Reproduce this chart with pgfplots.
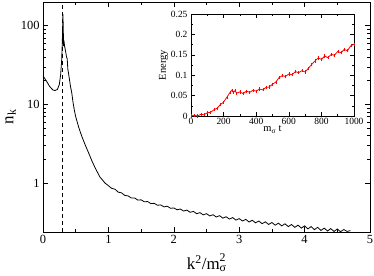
\documentclass[border=0pt]{standalone}
\usepackage{fontspec}
\setmainfont{Liberation Serif}
\usepackage{pgfplots}
\pgfplotsset{compat=1.18}
\begin{document}
\begin{tikzpicture}
\begin{axis}[at={(0bp,0bp)}, anchor=south west, scale only axis,
  width=327bp, height=230bp,
  xmin=0, xmax=5, ymode=log, ymin=0.24, ymax=200,
  xtick={0,1,2,3,4,5}, minor xtick={0.5,1.5,2.5,3.5,4.5},
  ytick={1,10,100}, yticklabels={1,10,100},
  tick align=inside, major tick length=5bp, minor tick length=3bp,
  axis line style={line width=0.8pt}, every tick/.style={black, line width=0.6pt},
  ticklabel style={font=\fontsize{12.5}{12.5}\selectfont},
  /pgf/number format/assume math mode=true,
  xlabel={k\textsuperscript{2}/m\rlap{\textsubscript{σ}}\raisebox{1.5bp}{\textsuperscript{2}}},
  ylabel={n\textsubscript{k}},
  label style={font=\fontsize{17}{17}\selectfont},
  xlabel style={yshift=-3bp},
  ylabel style={yshift=-2bp},
]
\addplot[black, line width=0.8pt] coordinates {
(0,23) (0.05,20) (0.1,17) (0.15,15.3) (0.18,15) (0.22,15.5) (0.25,18) (0.27,24)
(0.285,36) (0.295,60) (0.305,140) (0.31,90) (0.315,55) (0.32,65) (0.33,55) (0.34,50)
(0.35,45) (0.36,40) (0.37,38) (0.38,28) (0.39,25) (0.40,22) (0.42,17) (0.44,14)
(0.46,10.5) (0.48,8.4) (0.5,7) (0.55,5) (0.6,3.8) (0.65,3) (0.7,2.4) (0.75,1.9)
(0.8,1.55) (0.87,1.2) (0.95,1.0)
(1.00,0.93) (1.05,0.86) (1.10,0.84) (1.15,0.77) (1.20,0.755) (1.25,0.70) (1.30,0.69)
(1.35,0.65) (1.40,0.65) (1.45,0.61) (1.50,0.615) (1.55,0.58) (1.60,0.585) (1.65,0.55)
(1.70,0.555) (1.75,0.525) (1.80,0.53) (1.85,0.50) (1.90,0.51) (1.95,0.48) (2.00,0.485)
(2.05,0.46) (2.10,0.47) (2.15,0.443) (2.20,0.455) (2.25,0.427) (2.30,0.438) (2.35,0.41)
(2.40,0.423) (2.45,0.396) (2.50,0.41) (2.55,0.384) (2.60,0.398) (2.65,0.372) (2.70,0.387)
(2.75,0.36) (2.80,0.375) (2.85,0.35) (2.90,0.366) (2.95,0.34) (3.00,0.355) (3.05,0.331)
(3.10,0.347) (3.15,0.322) (3.20,0.338) (3.25,0.314) (3.30,0.331) (3.35,0.306) (3.40,0.323)
(3.45,0.299) (3.50,0.317) (3.55,0.293) (3.60,0.311) (3.65,0.287) (3.70,0.305) (3.75,0.281)
(3.80,0.299) (3.85,0.275) (3.90,0.293) (3.95,0.269) (4.00,0.287) (4.05,0.263) (4.10,0.281)
(4.15,0.257) (4.20,0.275) (4.25,0.251) (4.30,0.269) (4.35,0.247) (4.40,0.265) (4.45,0.244)
(4.50,0.262) (4.55,0.242) (4.60,0.258) (4.65,0.244) (4.70,0.25)
};
\addplot[black, line width=0.8pt, dash pattern=on 4pt off 3pt] coordinates {(0.3,0.24) (0.3,200)};
\end{axis}
\begin{axis}[at={(148bp,116bp)}, anchor=south west, scale only axis,
  width=163bp, height=102bp,
  xmin=0, xmax=1000, ymin=0, ymax=0.25,
  xtick={0,200,400,600,800,1000}, minor xtick={100,300,500,700,900},
  xticklabels={0,200,400,600,800,1000},
  ytick={0,0.05,0.1,0.15,0.2,0.25}, minor ytick={0.025,0.075,0.125,0.175,0.225},
  yticklabels={0,0.05,0.1,0.15,0.2,0.25},
  tick align=inside, major tick length=4bp, minor tick length=2bp,
  axis line style={line width=0.7pt}, every tick/.style={black, line width=0.5pt},
  ticklabel style={font=\fontsize{9.5}{9.5}\selectfont},
  xticklabel style={yshift=1bp},
  /pgf/number format/assume math mode=true,
  xlabel={m\textsubscript{σ} t}, ylabel={Energy},
  label style={font=\fontsize{10.5}{10.5}\selectfont},
  xlabel style={yshift=6bp}, ylabel style={yshift=-4bp},
  axis background/.style={fill=white},
]
\addplot[red, line width=0.8pt, mark=|, mark size=1.6pt, mark options={line width=0.4pt}] coordinates {
(0,0.000) (20,0.002) (40,0.000) (60,0.004) (80,0.003) (100,0.008) (120,0.009) (140,0.015)
(160,0.019) (180,0.028) (200,0.034) (220,0.046) (240,0.058) (250,0.063) (260,0.058)
(270,0.062) (280,0.056) (300,0.059) (320,0.055) (340,0.061) (360,0.058) (380,0.063)
(400,0.061) (420,0.066) (440,0.064) (460,0.070) (480,0.071) (500,0.078) (520,0.083)
(540,0.094) (560,0.099) (580,0.097) (600,0.103) (620,0.101) (640,0.109) (660,0.106)
(680,0.111) (700,0.108) (720,0.117) (740,0.126) (760,0.135) (780,0.142) (800,0.139)
(820,0.147) (840,0.143) (860,0.151) (880,0.149) (900,0.158) (920,0.155) (940,0.163)
(960,0.160) (980,0.172) (1000,0.176)
};
\end{axis}
\pgfresetboundingbox
\useasboundingbox (-43bp,-44bp) rectangle (331bp,232bp);
\end{tikzpicture}
\end{document}
